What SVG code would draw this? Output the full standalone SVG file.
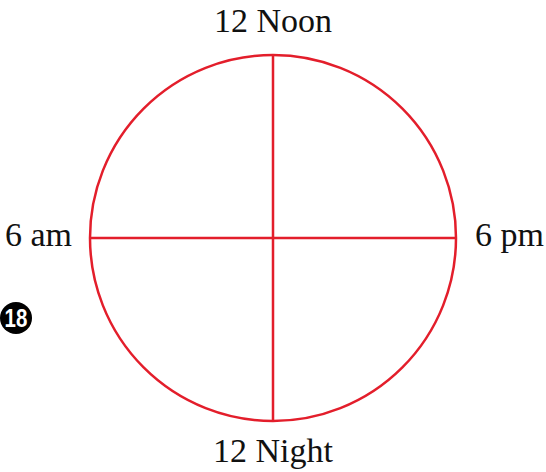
<svg xmlns="http://www.w3.org/2000/svg" width="546" height="472" viewBox="0 0 546 472">
<style>
.l{fill:none;stroke:#e31e2b;stroke-width:2.5}
.t{font-family:"Liberation Serif",serif;font-size:34px;fill:#111}
</style>
<rect width="546" height="472" fill="#fff"/>
<g id="clock">
<circle class="l" cx="273" cy="238" r="183"/>
</g>
<g id="connectors">
<line class="l" x1="273" y1="55" x2="273" y2="421"/>
<line class="l" x1="90" y1="238" x2="456" y2="238"/>
</g>
<g id="labels">
<text class="t" x="273" y="32" text-anchor="middle">12 Noon</text>
<text class="t" x="5" y="246">6 am</text>
<text class="t" x="475" y="246">6 pm</text>
<text class="t" x="273" y="462" text-anchor="middle">12 Night</text>
</g>
<g id="badge">
<circle cx="16" cy="318" r="16" fill="#000"/>
<text x="0" y="327" text-anchor="middle" transform="translate(16 0) scale(0.82 1)" font-family="'Liberation Sans',sans-serif" font-weight="bold" font-size="25" fill="#fff">18</text>
</g>
</svg>
